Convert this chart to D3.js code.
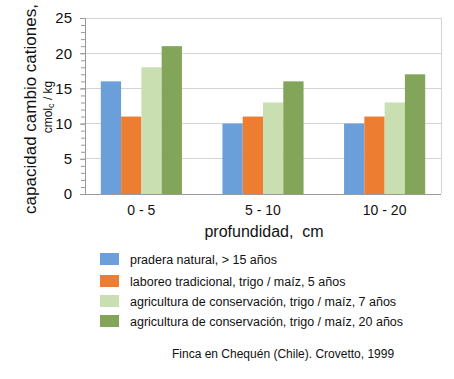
<!DOCTYPE html>
<html><head><meta charset="utf-8">
<script src="https://cdn.jsdelivr.net/npm/d3@7"></script>
<style>body{margin:0;background:#fff}svg{display:block}text{white-space:pre}</style>
</head><body>
<script>
const categories = ["0 - 5", "5 - 10", "10 - 20"];
const seriesNames = [
  "pradera natural, > 15 años",
  "laboreo tradicional, trigo / maíz, 5 años",
  "agricultura de conservación, trigo / maíz, 7 años",
  "agricultura de conservación, trigo / maíz, 20 años"
];
const pradera = [16, 10, 10];
const laboreo = [11, 11, 11];
const conserv7 = [18, 13, 13];
const conserv20 = [21, 16, 17];
const seriesValues = [pradera, laboreo, conserv7, conserv20];
const colors = ["#6a9fd9", "#ed7d31", "#c9dfb1", "#83a55a"];
const yTicks = [0, 5, 10, 15, 20, 25];

const W = 454, H = 379;
const svg = d3.select("body").append("svg").attr("width", W).attr("height", H);
const L = 85, R = 441, T = 18, B = 194;
const font = "Liberation Sans, Arial, sans-serif";

const y = d3.scaleLinear().domain([0, 25]).range([B, T]);
const x0 = d3.scaleBand().domain(categories).range([L, R]).paddingInner(0.333).paddingOuter(0.13);
const x1 = d3.scaleBand().domain(d3.range(seriesNames.length)).range([0, x0.bandwidth()]);

// grid
svg.append("g").selectAll("line").data(yTicks.slice(1)).join("line")
  .attr("x1", L).attr("x2", R).attr("y1", d => y(d)).attr("y2", d => y(d))
  .attr("stroke", "#d4d4d4").attr("stroke-width", 1).attr("shape-rendering", "crispEdges");
// right border
svg.append("line").attr("x1", R).attr("x2", R).attr("y1", T).attr("y2", B)
  .attr("stroke", "#d4d4d4").attr("shape-rendering", "crispEdges");

// bars
const g = svg.append("g");
categories.forEach((c, ci) => {
  seriesValues.forEach((vals, si) => {
    g.append("rect")
      .attr("x", x0(c) + x1(si))
      .attr("width", x1.bandwidth())
      .attr("y", y(vals[ci]))
      .attr("height", y(0) - y(vals[ci]))
      .attr("fill", colors[si]);
  });
});

// y axis with minor ticks
const yAxisMinor = d3.axisLeft(y).ticks(25).tickSize(4).tickFormat("");
svg.append("g").attr("transform", `translate(${L},0)`).call(yAxisMinor)
  .call(a => a.select(".domain").attr("stroke", "#999"))
  .call(a => a.selectAll(".tick line").attr("stroke", "#999"));
const yAxis = d3.axisLeft(y).tickValues(yTicks).tickSize(5).tickPadding(8);
svg.append("g").attr("transform", `translate(${L},0)`).call(yAxis)
  .call(a => a.select(".domain").remove())
  .call(a => a.selectAll(".tick line").attr("stroke", "#999"))
  .call(a => a.selectAll("text").attr("font-family", font).attr("font-size", 15).attr("fill", "#111"));

// x axis
const xAxis = d3.axisBottom(x0).tickSize(0).tickPadding(11);
svg.append("g").attr("transform", `translate(0,${B})`).call(xAxis)
  .call(a => a.select(".domain").attr("stroke", "#999").attr("d", `M${L},0.5H${R}`))
  .call(a => a.selectAll("text").attr("font-family", font).attr("font-size", 14).attr("fill", "#111"));

// axis titles
svg.append("text").attr("x", 264).attr("y", 237).attr("text-anchor", "middle")
  .attr("font-family", font).attr("font-size", 16).attr("fill", "#111").text("profundidad,  cm");
svg.append("text").attr("transform", "translate(36,109) rotate(-90)").attr("text-anchor", "middle")
  .attr("font-family", font).attr("font-size", 17).attr("fill", "#111").text("capacidad cambio cationes,");
const t2 = svg.append("text").attr("transform", "translate(52,107) rotate(-90)").attr("text-anchor", "middle")
  .attr("font-family", font).attr("font-size", 12).attr("fill", "#111");
t2.append("tspan").text("cmol");
t2.append("tspan").attr("font-size", 9).attr("dy", 2).text("c");
t2.append("tspan").attr("dy", -2).text(" / kg");

// legend
const legY = [259, 281, 301, 321];
seriesNames.forEach((n, i) => {
  svg.append("rect").attr("x", 100).attr("y", legY[i] - 6).attr("width", 19).attr("height", 12).attr("fill", colors[i]);
  svg.append("text").attr("x", 130).attr("y", legY[i] + 4.5).attr("font-family", font).attr("font-size", 12.5)
    .attr("fill", "#111").text(n);
});

svg.append("text").attr("x", 172).attr("y", 358).attr("font-family", font).attr("font-size", 12)
  .attr("fill", "#111").text("Finca en Chequén (Chile). Crovetto, 1999");
</script>
</body></html>
